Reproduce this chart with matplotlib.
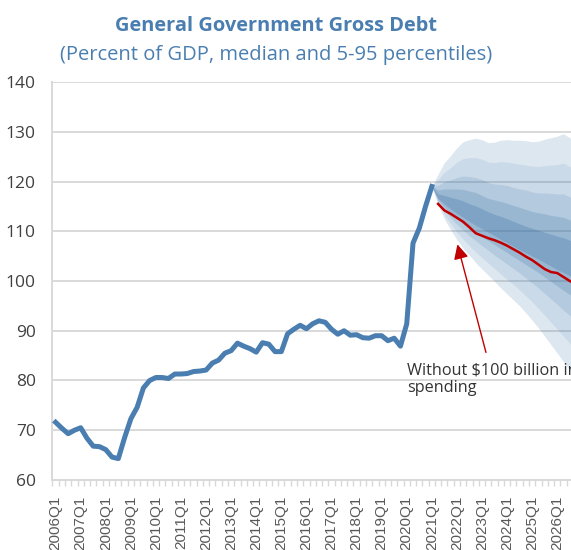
import matplotlib
matplotlib.use("Agg")
import matplotlib.pyplot as plt

# quarterly categories on the x axis
quarters = [f"{y}Q{q}" for y in range(2006, 2027) for q in range(1, 5)]
year_labels = [f"{y}Q1" for y in range(2006, 2027)]

# gross debt, percent of GDP, 2006Q1 - 2021Q1
debt = [71.6, 70.4, 69.3, 70.0, 70.5, 68.4, 66.8, 66.7, 66.1, 64.6,
        64.3, 68.5, 72.3, 74.6, 78.5, 80.0, 80.6, 80.6, 80.4, 81.3,
        81.3, 81.4, 81.8, 81.9, 82.1, 83.5, 84.1, 85.5, 86.0, 87.5,
        86.9, 86.4, 85.7, 87.6, 87.3, 85.8, 85.8, 89.4, 90.3, 91.1,
        90.4, 91.4, 92.0, 91.7, 90.3, 89.3, 90.0, 89.1, 89.2, 88.6,
        88.5, 89.0, 89.0, 88.0, 88.5, 86.9, 91.4, 107.6, 110.6, 115.0,
        119.0]

# projection percentiles, 2021Q1 - 2026Q4
p95 = [119.0, 121.5, 123.8, 125.2, 126.8, 128.0, 128.4, 128.7, 128.4, 127.8, 127.9, 128.3,
       128.4, 128.3, 128.3, 128.2, 128.0, 128.1, 128.5, 128.8, 129.1, 129.6, 128.8, 128.2]
p90 = [119.0, 120.4, 121.9, 122.8, 123.9, 124.6, 124.8, 124.8, 124.5, 123.9, 123.8, 124.0,
       123.9, 123.7, 123.5, 123.3, 123.1, 123.0, 123.2, 123.3, 123.4, 123.7, 123.0, 122.4]
p80 = [119.0, 119.2, 120.0, 120.3, 120.8, 121.1, 121.0, 120.8, 120.4, 119.8, 119.5, 119.4,
       119.2, 118.8, 118.5, 118.3, 117.9, 117.7, 117.7, 117.6, 117.5, 117.5, 116.9, 116.3]
p70 = [119.0, 118.3, 118.5, 118.5, 118.5, 118.4, 118.1, 117.8, 117.2, 116.6, 116.3, 116.0,
       115.6, 115.2, 114.8, 114.4, 114.0, 113.7, 113.5, 113.2, 113.0, 112.8, 112.3, 111.7]
p60 = [119.0, 117.5, 117.2, 116.8, 116.5, 116.1, 115.5, 115.1, 114.5, 113.9, 113.4, 113.0,
       112.5, 112.0, 111.5, 111.0, 110.6, 110.2, 109.8, 109.4, 109.0, 108.7, 108.2, 107.7]
p40 = [119.0, 116.6, 115.5, 114.5, 113.6, 112.8, 112.0, 111.2, 110.5, 109.8, 109.1, 108.4,
       107.7, 107.0, 106.3, 105.7, 105.0, 104.4, 103.7, 103.0, 102.3, 101.7, 101.1, 100.4]
p30 = [119.0, 116.3, 114.9, 113.7, 112.6, 111.6, 110.6, 109.8, 108.9, 108.1, 107.3, 106.5,
       105.7, 104.9, 104.1, 103.3, 102.5, 101.7, 100.8, 99.9, 99.0, 98.1, 97.3, 96.5]
p20 = [119.0, 116.0, 114.2, 112.7, 111.4, 110.2, 109.1, 108.1, 107.1, 106.2, 105.2, 104.3,
       103.4, 102.5, 101.6, 100.6, 99.6, 98.6, 97.5, 96.4, 95.3, 94.1, 93.1, 92.0]
p10 = [119.0, 115.7, 113.3, 111.5, 109.8, 108.4, 107.1, 105.8, 104.7, 103.6, 102.5, 101.4,
       100.3, 99.3, 98.2, 97.0, 95.8, 94.5, 93.1, 91.7, 90.3, 88.9, 87.5, 86.1]
p5 = [119.0, 115.3, 112.5, 110.3, 108.3, 106.6, 105.2, 103.7, 102.4, 101.2, 99.9, 98.6,
      97.4, 96.2, 95.0, 93.6, 92.1, 90.6, 88.9, 87.2, 85.5, 83.8, 82.1, 80.5]

# path without the $100 billion of spending, 2021Q2 - 2026Q4
no_spending = [115.5, 114.2, 113.5, 112.7, 111.9, 110.8, 109.6, 109.1, 108.6, 108.2, 107.7, 107.1,
               106.4, 105.7, 104.9, 104.2, 103.3, 102.4, 101.8, 101.6, 100.8, 100.0, 99.3]

blue = "#4a7eb0"
fan_color = "#2f6aa3"
red = "#c00000"
grid_grey = "#d9d9d9"

fig = plt.figure(figsize=(5.71, 5.5), dpi=100)
ax = fig.add_axes([0.0919, 0.1273, 0.9224, 0.7236])

x_hist = list(range(len(debt)))
x_fan = list(range(len(debt) - 1, len(debt) - 1 + len(p95)))
x_red = list(range(len(debt), len(debt) + len(no_spending)))

# nested fan bands, outermost first
bands = [(p5, p95, 0.16), (p10, p90, 0.10), (p20, p80, 0.14), (p30, p70, 0.19), (p40, p60, 0.26)]
for lo, hi, a in bands:
    ax.fill_between(x_fan, lo, hi, color=fan_color, alpha=a, lw=0, zorder=2)

ax.plot(x_hist, debt, color=blue, lw=3.6, solid_joinstyle="round", zorder=4)
ax.plot(x_red, no_spending, color=red, lw=1.8, zorder=5)

ax.annotate("", xy=(63.97, 107.9), xytext=(68.75, 85.1),
            arrowprops=dict(arrowstyle="-|>", color=red, lw=1.0, mutation_scale=22),
            zorder=6)
# the reference crops this note at its right edge
ax.text(56.0, 83.6, "Without $100 billion in\nspending", fontsize=11.7,
        family="Open Sans", color="#333333", va="top", ha="left",
        linespacing=1.15, zorder=6)

ax.set_xlim(-0.5, len(quarters) - 0.5)
ax.set_ylim(60, 140)
ax.set_yticks(range(60, 141, 10))
ax.yaxis.grid(True, color=grid_grey, lw=1.4, zorder=0)
ax.set_axisbelow(True)

# tick marks on category boundaries, labels on each Q1
ax.set_xticks([i - 0.5 for i in range(len(quarters) + 1)])
ax.set_xticklabels([])
ax.set_xticks([quarters.index(q) for q in year_labels], minor=True)
ax.set_xticklabels(year_labels, minor=True, rotation=90, fontsize=11,
                   family="Liberation Sans", color="#595959")
ax.tick_params(axis="x", which="major", length=4, width=1.0, color=grid_grey)
ax.tick_params(axis="x", which="minor", length=0, pad=11)
ax.tick_params(axis="y", length=0, pad=12, labelsize=12.5, labelcolor="#404040")
for lab in ax.get_yticklabels():
    lab.set_family("Open Sans")

for side in ("top", "right"):
    ax.spines[side].set_visible(False)
for side in ("left", "bottom"):
    ax.spines[side].set_color(grid_grey)
    ax.spines[side].set_linewidth(1.4)

fig.text(0.483, 0.953, "General Government Gross Debt", ha="center", va="center",
         fontsize=14.4, fontweight="bold", family="Open Sans", color=blue)
fig.text(0.484, 0.900, "(Percent of GDP, median and 5-95 percentiles)", ha="center",
         va="center", fontsize=14.5, family="Open Sans", color=blue)

fig.savefig("out.png", dpi=100)
